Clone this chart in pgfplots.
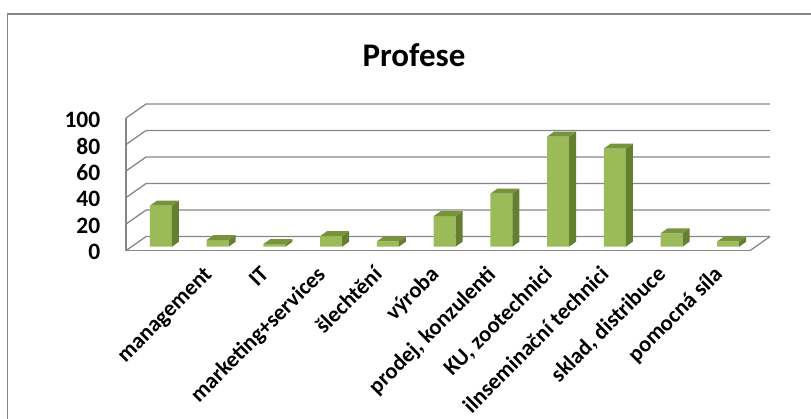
\documentclass[border=0pt]{standalone}
\usepackage{pgfplots}
\pgfplotsset{compat=1.18}
\usepackage{pgfplotstable}
\usepackage{fontspec}
\setmainfont{Carlito}
\definecolor{frontc}{RGB}{155,187,89}
\definecolor{topc}{RGB}{119,147,60}
\definecolor{sidec}{RGB}{100,127,48}
\definecolor{gridc}{RGB}{134,134,134}

\pgfplotstableread{
i v
0 31
1 5
2 2
3 8
4 4
5 23
6 40
7 83
8 74
9 10
10 4
}\profdata

\pgfdeclareplotmark{box3d}{%
  \pgfmathsetmacro\hh{\val*1.326}%
  \pgfsetfillcolor{sidec}%
  \pgfpathmoveto{\pgfpoint{17.6bp}{3.9bp}}%
  \pgfpathlineto{\pgfpoint{24.6bp}{8.9bp}}%
  \pgfpathlineto{\pgfpoint{24.6bp}{8.9bp-\hh bp}}%
  \pgfpathlineto{\pgfpoint{17.6bp}{3.9bp-\hh bp}}%
  \pgfpathclose
  \pgfusepath{fill}%
  \pgfsetfillcolor{topc}%
  \pgfpathmoveto{\pgfpoint{-4.4bp}{3.9bp}}%
  \pgfpathlineto{\pgfpoint{2.6bp}{8.9bp}}%
  \pgfpathlineto{\pgfpoint{24.6bp}{8.9bp}}%
  \pgfpathlineto{\pgfpoint{17.6bp}{3.9bp}}%
  \pgfpathclose
  \pgfusepath{fill}%
}

\begin{document}
\begin{tikzpicture}
\path[use as bounding box] (0,0) rectangle (811bp,419bp);
\draw[gridc, line width=1.3bp] (7.5bp,-5bp) -- (7.5bp,405bp) -- (820bp,405bp);
\node[font=\fontsize{33bp}{36bp}\selectfont\bfseries, anchor=base] at (414bp,352.3bp) {Profese};
\begin{axis}[
  at={(126bp,168.4bp)}, anchor=south west,
  width=624bp, height=132.6bp, scale only axis,
  xmin=-0.5, xmax=10.5, ymin=0, ymax=100,
  clip=false,
  axis x line=bottom, axis y line=left,
  axis line style={-, gridc, line width=1.3bp},
  ytick={0,20,...,100},
  xtick={0,...,10},
  xticklabels={{},management,IT,marketing+services,šlechtění,výroba,{prodej, konzulenti},{KU, zootechnici},ilnseminační technici,{sklad, distribuce},pomocná síla},
  major tick length=0pt,
  /pgf/number format/assume math mode=true,
  yticklabel style={font=\fontsize{23.5bp}{26bp}\selectfont\bfseries, anchor=east, inner sep=0pt, xshift=-25.5bp, yshift=-1.5bp},
  xticklabel style={font=\fontsize{22.5bp}{26bp}\selectfont\bfseries, inner sep=0pt, text height=0.7em, xshift=-3bp, yshift=-20bp, rotate=45, anchor=north east},
]
\pgfplotsinvokeforeach{0,20,40,60,80,100}{%
  \draw[gridc, line width=1.3bp] (axis cs:-0.5,#1) -- ([shift={(20bp,14bp)}]axis cs:-0.5,#1) -- ([shift={(20bp,14bp)}]axis cs:10.5,#1);
}
\draw[gridc, line width=1.3bp] (axis cs:10.5,0) -- ([shift={(20bp,14bp)}]axis cs:10.5,0);
\addplot[ybar, bar width=22bp, bar shift=6.6bp, yshift=3.9bp, fill=frontc, draw=none] table[x=i,y=v]{\profdata};
\addplot[only marks, mark=box3d, visualization depends on={\thisrow{v}\as\val}] table[x=i,y=v]{\profdata};
\end{axis}
\end{tikzpicture}
\end{document}
